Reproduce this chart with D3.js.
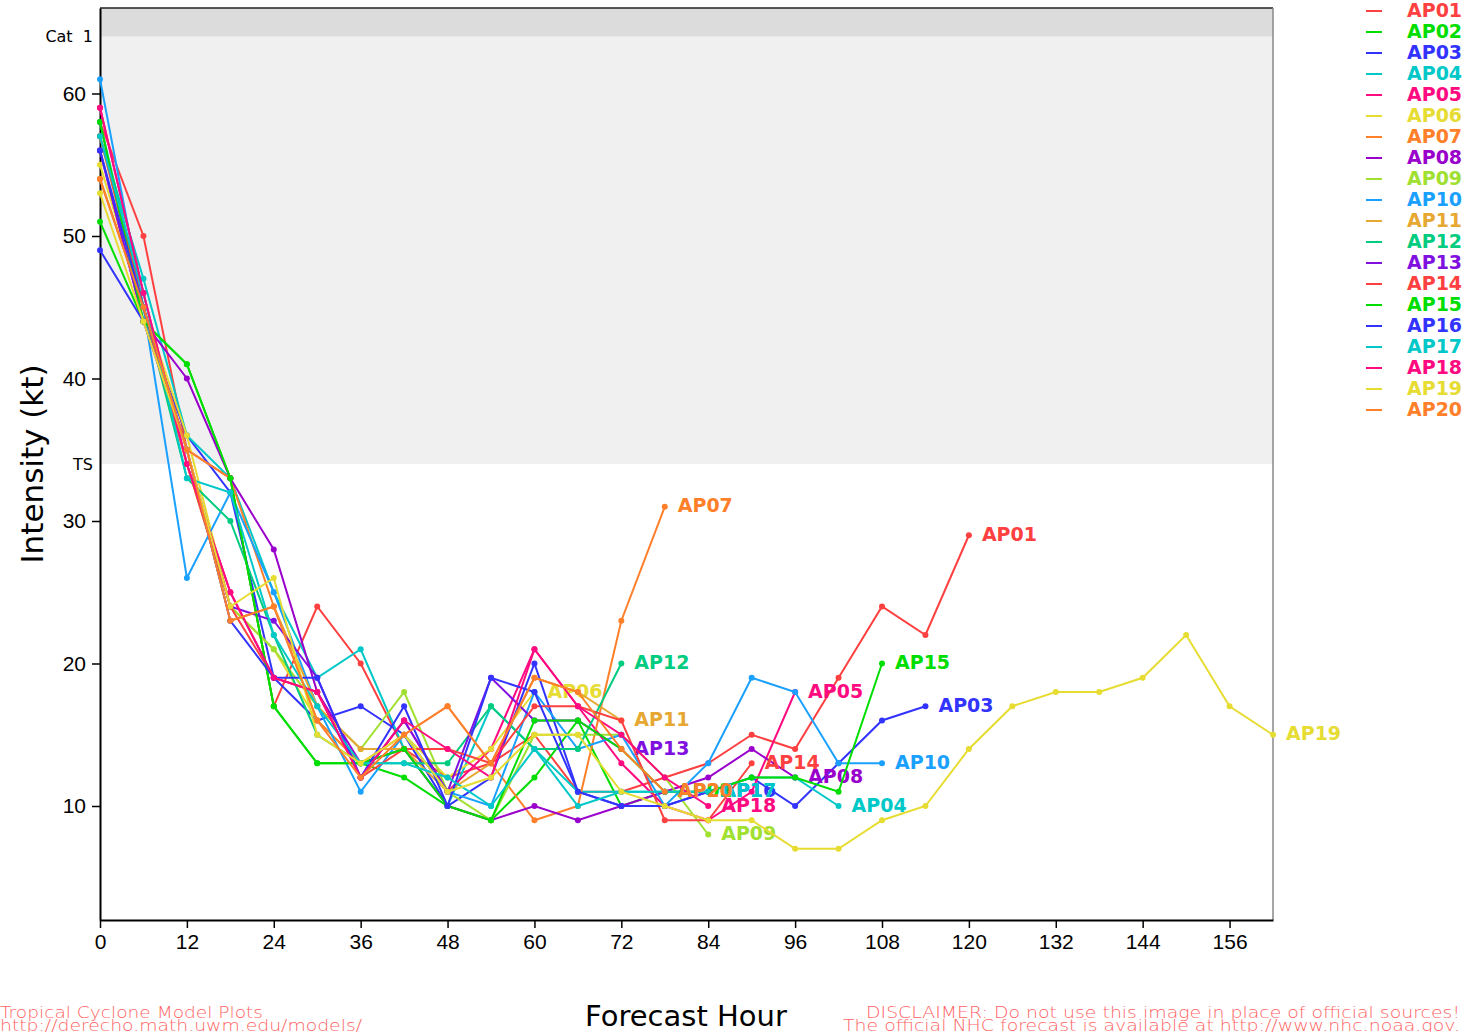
<!DOCTYPE html>
<html lang="en">
<head>
<meta charset="UTF-8">
<title>Intensity (kt) - Forecast Hour</title>
<script src="https://d3js.org/d3.v7.min.js"></script>
<style>
  body { margin: 0; background: #fff; }
  svg { display: block; font-family: "DejaVu Sans", sans-serif; }
  .tick text { font-size: 21px; fill: #000; }
  .foot { font-family: "DejaVu Sans", sans-serif; font-size: 16px; fill: #ff6464; font-weight: 200; }
</style>
</head>
<body>
<div id="chart"></div>
<script>
// forecast hours are every 6 h from 0
const names = ["AP01","AP02","AP03","AP04","AP05","AP06","AP07","AP08","AP09","AP10",
               "AP11","AP12","AP13","AP14","AP15","AP16","AP17","AP18","AP19","AP20"];
const palette = ["#ff4040","#00dd00","#3333ff","#00c8c8","#ff0a80","#e6dc32","#ff7f2a",
                 "#9900cc","#a0e030","#1aa0ff","#e6a832","#00cc80","#8010e0"];

const AP01 = [58,50,35,33,17,24,20,14,12,13,15,11,11,12,13,15,14,19,24,22,29];
const AP02 = [51,44,41,33,17,13,13,12,10,9,12,16,10,11];
const AP03 = [49,44,36,32,19,16,17,15,10,12,20,11,10,10,11,12,10,13,16,17];
const AP04 = [57,47,36,33,25,19,21,14,10,17,14,11,11,11,11,12,12,10];
const AP05 = [59,46,34,25,19,18,12,16,11,14,21,17,13,10,9,11,18];
const AP06 = [55,45,36,24,21,16,13,15,12,14,18];
const AP07 = [54,45,35,33,24,16,13,15,17,13,9,10,23,31];
const AP08 = [56,44,40,33,28,18,13,14,10,9,10,9,10,11,12,14,12];
const AP09 = [57,45,34,24,21,17,14,18,11,9,15,15,15,12,8];
const AP10 = [61,45,26,32,25,17,11,15,11,10,18,14,15,10,13,19,18,13,13];
const AP11 = [54,45,35,23,24,17,14,14,11,13,19,18,16];
const AP12 = [58,45,33,30,22,15,13,13,13,17,14,14,20];
const AP13 = [56,44,35,24,23,19,12,16,11,19,16,16,14];
const AP14 = [57,45,34,24,19,18,12,14,14,13,17,17,16,9,9,13];
const AP15 = [58,44,41,33,17,13,13,14,10,9,16,16,14,11,11,12,12,11,20];
const AP16 = [56,45,35,23,19,19,12,17,10,19,18,11,10,10,11];
const AP17 = [57,46,33,32,22,17,13,13,12,10,14,10,11,11,11];
const AP18 = [59,46,34,25,19,18,12,16,14,12,21,17,15,12,10];
const AP19 = [53,44,35,24,26,15,13,15,11,12,15,15,11,10,9,9,7,7,9,10,14,17,18,18,19,22,17,15];
const AP20 = [54,45,35,23,24,16,12,15,17,13,19,18,14,11];

const values = [AP01,AP02,AP03,AP04,AP05,AP06,AP07,AP08,AP09,AP10,
                AP11,AP12,AP13,AP14,AP15,AP16,AP17,AP18,AP19,AP20];
const xTicks = [0,12,24,36,48,60,72,84,96,108,120,132,144,156];
const yTicks = [10,20,30,40,50,60];
const bands = [{name: "TS", from: 34, to: 64, fill: "#f0f0f0"},
               {name: "Cat  1", from: 64, to: 66, fill: "#dcdcdc"}];

const width = 1482, height = 1032;
const margin = {top: 8, right: 209, bottom: 112, left: 100};

const series = names.map((n, i) => ({
    name: n,
    color: palette[i % palette.length],
    pts: values[i].map((v, j) => ({h: j * 6, v: v}))
}));

const svg = d3.select("#chart").append("svg")
    .attr("width", width)
    .attr("height", height);

const x = d3.scaleLinear().domain([0, 162]).range([margin.left, width - margin.right]);
const y = d3.scaleLinear().domain([2, 66]).range([height - margin.bottom, margin.top]);

// intensity category shading
svg.selectAll(".band").data(bands).enter().append("rect")
    .attr("x", x(0))
    .attr("width", x(162) - x(0))
    .attr("y", d => y(d.to))
    .attr("height", d => y(d.from) - y(d.to))
    .attr("fill", d => d.fill);

// category threshold labels sit at the lower edge of each band
svg.selectAll(".bandlabel").data(bands).enter().append("text")
    .attr("x", x(0) - 7)
    .attr("y", d => y(d.from) + 1)
    .attr("text-anchor", "end")
    .attr("dominant-baseline", "middle")
    .style("font-size", "16px")
    .style("white-space", "pre")
    .text(d => d.name);

// frame
svg.append("line").attr("x1", x(0)).attr("x2", x(162)).attr("y1", y(66)).attr("y2", y(66))
    .attr("stroke", "#222").attr("stroke-width", 1.5);
svg.append("line").attr("x1", x(162)).attr("x2", x(162)).attr("y1", y(66)).attr("y2", y(2))
    .attr("stroke", "#888").attr("stroke-width", 1.5);

// axes
const xAxis = svg.append("g")
    .attr("transform", `translate(0,${y(2)})`)
    .call(d3.axisBottom(x).tickValues(xTicks).tickSize(8).tickPadding(6).tickSizeOuter(0));
const yAxis = svg.append("g")
    .attr("transform", `translate(${x(0)},0)`)
    .call(d3.axisLeft(y).tickValues(yTicks).tickSize(8).tickPadding(6).tickSizeOuter(0));
[xAxis, yAxis].forEach(g => {
    g.select(".domain").attr("stroke", "#000").attr("stroke-width", 2);
    g.selectAll(".tick line").attr("stroke", "#000").attr("stroke-width", 1.5);
});

svg.append("text")
    .attr("transform", `translate(43,${(y(2) + y(66)) / 2}) rotate(-90)`)
    .attr("text-anchor", "middle")
    .style("font-size", "31px")
    .text("Intensity (kt)");

svg.append("text")
    .attr("x", 686).attr("y", 1026)
    .attr("text-anchor", "middle")
    .style("font-size", "29px")
    .text("Forecast Hour");

// model tracks
const line = d3.line().x(d => x(d.h)).y(d => y(d.v));
const g = svg.selectAll(".model").data(series).enter().append("g");

g.append("path")
    .attr("d", d => line(d.pts))
    .attr("fill", "none")
    .attr("stroke", d => d.color)
    .attr("stroke-width", 2);

g.selectAll("circle").data(d => d.pts.map(p => ({...p, color: d.color}))).enter().append("circle")
    .attr("cx", p => x(p.h))
    .attr("cy", p => y(p.v))
    .attr("r", 3)
    .attr("fill", p => p.color);

g.append("text")
    .attr("x", d => x(d.pts[d.pts.length - 1].h) + 13)
    .attr("y", d => y(d.pts[d.pts.length - 1].v))
    .attr("dominant-baseline", "middle")
    .attr("fill", d => d.color)
    .style("font-size", "19px")
    .style("font-weight", "bold")
    .text(d => d.name);

// legend
const legend = svg.selectAll(".legend").data(series).enter().append("g")
    .attr("transform", (d, i) => `translate(1366,${11 + i * 21})`);
legend.append("line")
    .attr("x1", 0).attr("x2", 16)
    .attr("stroke", d => d.color).attr("stroke-width", 2);
legend.append("text")
    .attr("x", 41)
    .attr("dominant-baseline", "middle")
    .attr("fill", d => d.color)
    .style("font-size", "19px")
    .style("font-weight", "bold")
    .text(d => d.name);

// footer notes (stretched to the widths used in the original)
const foot = (txt, xPos, yPos, anchor, len) => svg.append("text")
    .attr("class", "foot")
    .attr("x", xPos).attr("y", yPos)
    .attr("text-anchor", anchor)
    .attr("textLength", len)
    .attr("lengthAdjust", "spacingAndGlyphs")
    .text(txt);
foot("Tropical Cyclone Model Plots", 0, 1018, "start", 263);
foot("http://derecho.math.uwm.edu/models/", 0, 1031, "start", 362);
foot("DISCLAIMER: Do not use this image in place of official sources!", 1460, 1018, "end", 594);
foot("The official NHC forecast is available at http://www.nhc.noaa.gov.", 1460, 1031, "end", 617);
</script>
</body>
</html>
